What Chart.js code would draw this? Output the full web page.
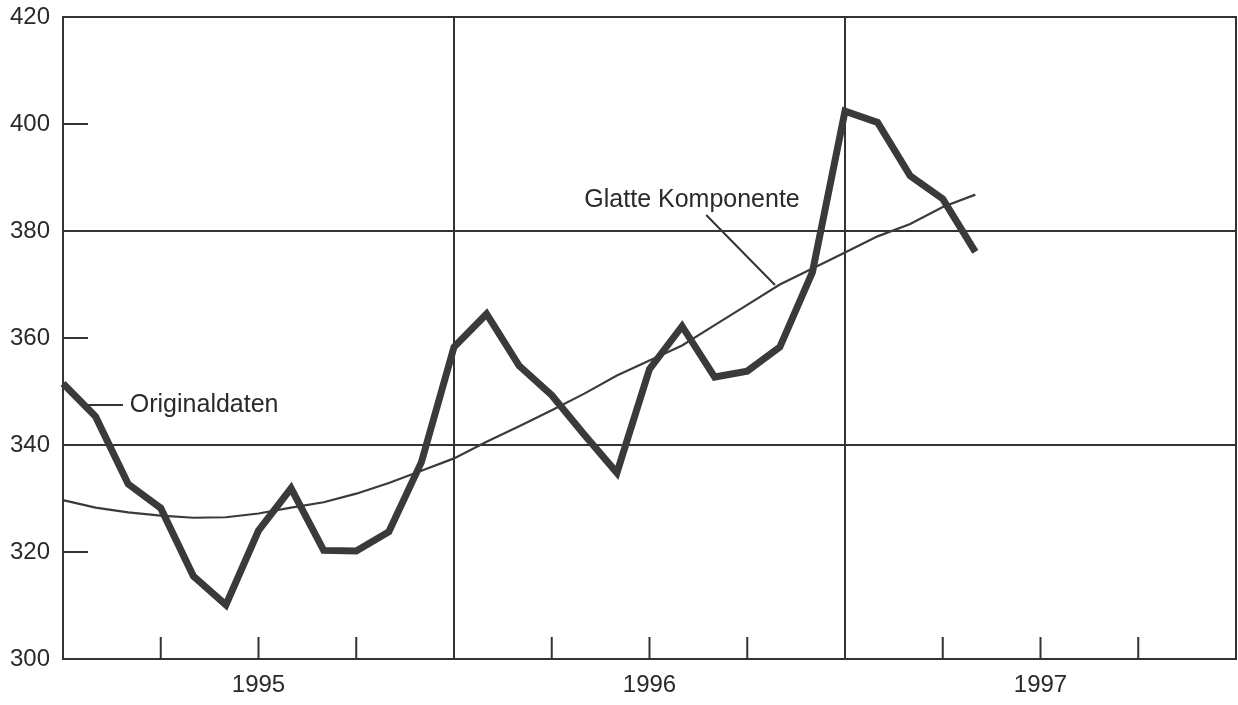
<!DOCTYPE html>
<html>
<head>
<meta charset="utf-8">
<script src="https://cdn.jsdelivr.net/npm/chart.js@4/dist/chart.umd.min.js"></script>
<style>
  html, body { margin: 0; padding: 0; background: #fff; }
  #wrap { width: 1238px; height: 705px; position: relative; }
</style>
</head>
<body>
<div id="wrap"><canvas id="c" width="1238" height="705"></canvas></div>
<script>
// Monthly categories (Jan 1995 .. Jan 1998)
const months = [
  '1995-01','1995-02','1995-03','1995-04','1995-05','1995-06','1995-07','1995-08','1995-09','1995-10','1995-11','1995-12',
  '1996-01','1996-02','1996-03','1996-04','1996-05','1996-06','1996-07','1996-08','1996-09','1996-10','1996-11','1996-12',
  '1997-01','1997-02','1997-03','1997-04','1997-05','1997-06','1997-07','1997-08','1997-09','1997-10','1997-11','1997-12',
  '1998-01'
];
// Original data (thick line)
const originalData = [
  351.5, 345.3, 332.7, 328.2, 315.5, 310.1, 324.0, 331.9, 320.3, 320.2, 323.8, 336.8,
  358.3, 364.5, 354.8, 349.3, 341.9, 334.8, 354.2, 362.2, 352.7, 353.8, 358.3, 372.3,
  402.4, 400.3, 390.3, 386.0, 376.1
];
// Smooth component (thin line)
const smoothData = [
  329.7, 328.3, 327.4, 326.8, 326.4, 326.5, 327.2, 328.3, 329.3, 330.9, 332.9, 335.2,
  337.5, 340.6, 343.5, 346.5, 349.6, 353.0, 355.8, 358.6, 362.4, 366.2, 370.0, 373.0,
  376.0, 379.0, 381.3, 384.5, 386.8
];
const yTicks = [300, 320, 340, 360, 380, 400, 420];
const yFullGrid = [340, 380];
const yShortTicks = [320, 360, 400];
const yearLabels = { '1995-07': '1995', '1996-07': '1996', '1997-07': '1997' };
const yearGridMonths = ['1996-01', '1997-01'];
const quarterTickMonths = ['1995-04','1995-07','1995-10','1996-04','1996-07','1996-10','1997-04','1997-07','1997-10'];
const annotations = [
  { text: 'Originaldaten', textAt: [2.05, 347.5],
    lineFrom: [0.77, 347.5], lineTo: [1.84, 347.5] },
  { text: 'Glatte Komponente', textAt: [16.0, 385.8],
    lineFrom: [19.74, 383.0], lineTo: [21.85, 369.9] }
];

const INK = '#333333';
const FONT = "'Liberation Sans', Arial, Helvetica, sans-serif";

const framePlugin = {
  id: 'frame',
  beforeDatasetsDraw(chart) {
    const { ctx, chartArea: a, scales } = chart;
    const x = scales.x, y = scales.y;
    ctx.save();
    ctx.strokeStyle = INK;
    ctx.lineWidth = 2;
    ctx.strokeRect(a.left, a.top, a.right - a.left, a.bottom - a.top);
    ctx.beginPath();
    yShortTicks.forEach(v => {
      const py = y.getPixelForValue(v);
      ctx.moveTo(a.left, py); ctx.lineTo(a.left + 25, py);
    });
    quarterTickMonths.forEach(m => {
      const px = x.getPixelForValue(months.indexOf(m));
      ctx.moveTo(px, a.bottom); ctx.lineTo(px, a.bottom - 22);
    });
    ctx.stroke();
    ctx.restore();
  },
  afterDatasetsDraw(chart) {
    const { ctx, scales } = chart;
    const x = scales.x, y = scales.y;
    ctx.save();
    ctx.strokeStyle = INK;
    ctx.fillStyle = '#2a2a2a';
    ctx.lineWidth = 2;
    ctx.font = '25px ' + FONT;
    ctx.textBaseline = 'middle';
    ctx.textAlign = 'left';
    annotations.forEach(an => {
      ctx.beginPath();
      ctx.moveTo(x.getPixelForValue(an.lineFrom[0]), y.getPixelForValue(an.lineFrom[1]));
      ctx.lineTo(x.getPixelForValue(an.lineTo[0]), y.getPixelForValue(an.lineTo[1]));
      ctx.stroke();
      ctx.fillText(an.text, x.getPixelForValue(an.textAt[0]), y.getPixelForValue(an.textAt[1]));
    });
    ctx.restore();
  }
};

new Chart(document.getElementById('c'), {
  type: 'line',
  data: {
    labels: months,
    datasets: [
      { label: 'Glatte Komponente', data: smoothData, borderColor: '#3a3a3a', borderWidth: 2.2,
        pointRadius: 0, tension: 0, fill: false },
      { label: 'Originaldaten', data: originalData, borderColor: '#3a3a3a', borderWidth: 7,
        pointRadius: 0, tension: 0, fill: false, borderJoinStyle: 'miter', borderCapStyle: 'butt' }
    ]
  },
  options: {
    responsive: false,
    animation: false,
    layout: { padding: { top: 17, right: 2, left: 0, bottom: 0 } },
    plugins: { legend: { display: false }, tooltip: { enabled: false } },
    scales: {
      x: {
        type: 'category',
        offset: false,
        afterFit: s => { s.height = 46; s.paddingLeft = 0; s.paddingRight = 0; },
        border: { display: true, color: INK, width: 2 },
        grid: {
          drawTicks: false,
          lineWidth: 2,
          color: c => (c.tick && yearGridMonths.includes(months[c.index])) ? INK : 'transparent'
        },
        ticks: {
          autoSkip: false, maxRotation: 0, padding: 12,
          color: '#2a2a2a', font: { family: FONT, size: 24 },
          callback: function (val, i) { return yearLabels[months[i]] || ''; }
        }
      },
      y: {
        min: 300, max: 420,
        afterFit: s => { s.width = 63; s.paddingTop = 0; s.paddingBottom = 0; },
        afterBuildTicks: s => { s.ticks = yTicks.map(v => ({ value: v })); },
        border: { display: true, color: INK, width: 2 },
        grid: {
          drawTicks: false,
          lineWidth: 2,
          color: c => (c.tick && yFullGrid.includes(c.tick.value)) ? INK : 'transparent'
        },
        ticks: {
          padding: 13, color: '#2a2a2a', font: { family: FONT, size: 24 }
        }
      }
    }
  },
  plugins: [framePlugin]
});
</script>
</body>
</html>
